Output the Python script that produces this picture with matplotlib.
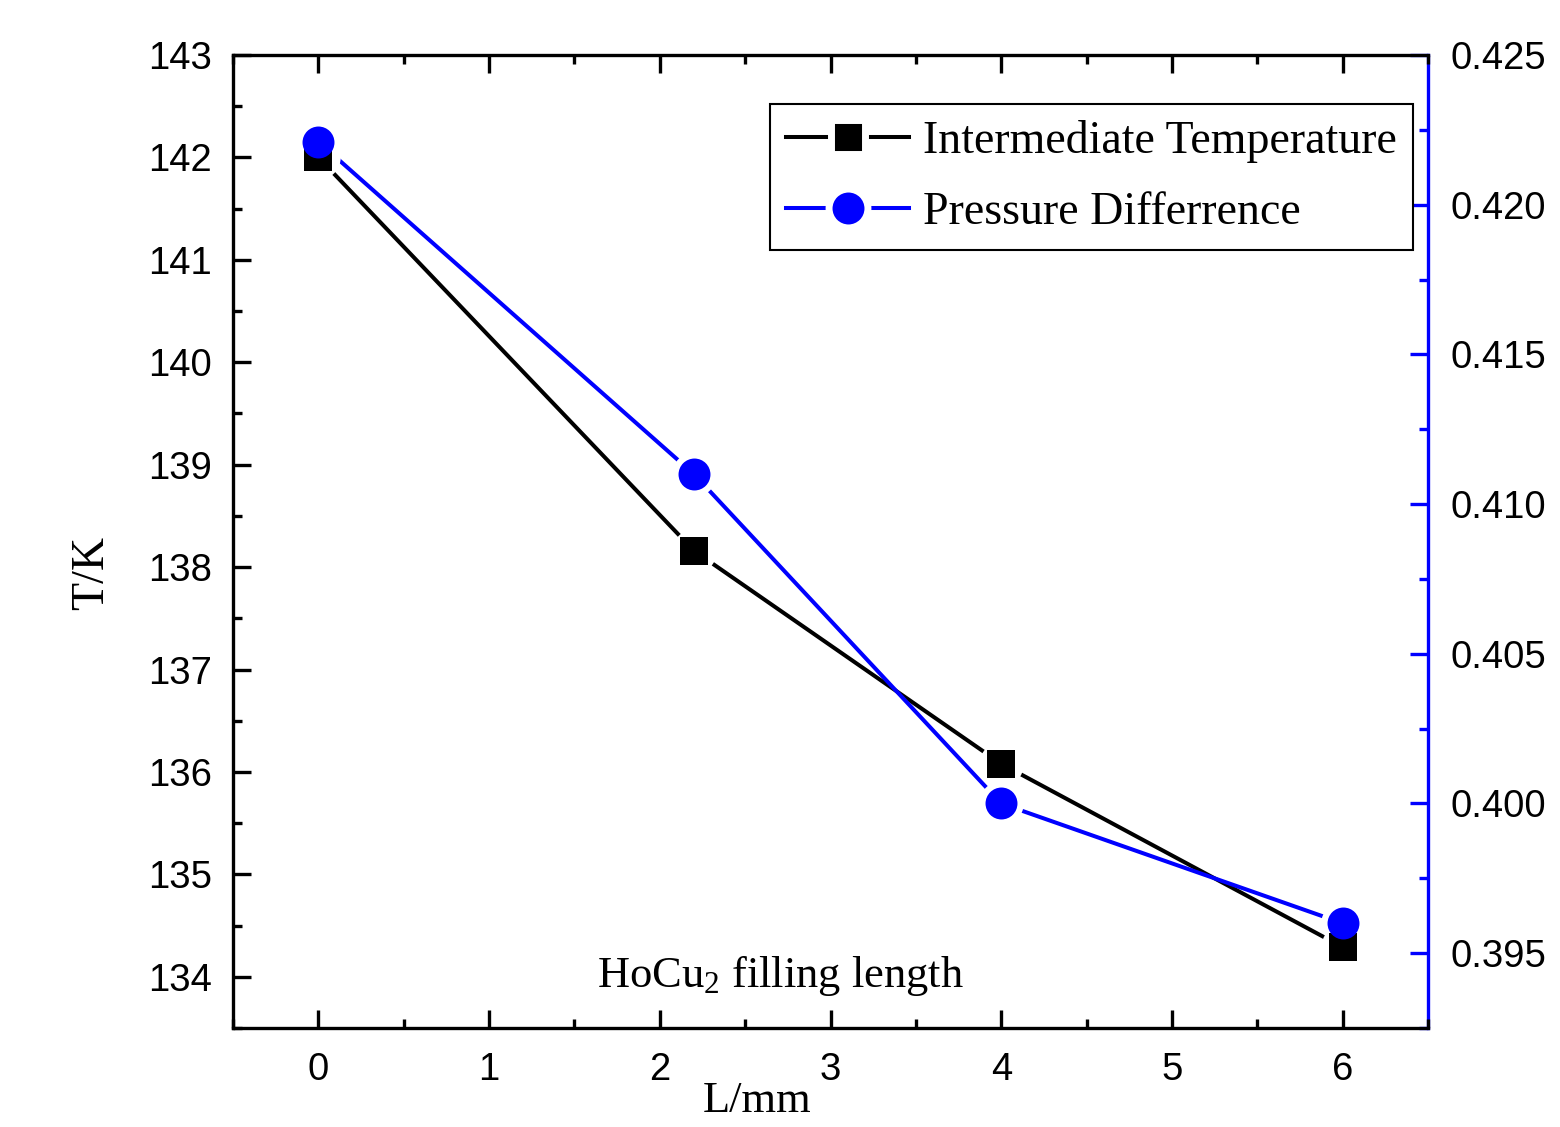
import matplotlib
matplotlib.use('Agg')
import matplotlib.pyplot as plt
from matplotlib.ticker import MultipleLocator, FormatStrFormatter
from matplotlib.lines import Line2D

# data
length_mm = [0, 2.2, 4, 6]
temp_K = [142.0, 138.16, 136.08, 134.29]
pressure_diff = [0.4221, 0.4110, 0.4000, 0.3960]

plt.rcParams['font.family'] = 'Liberation Sans'
plt.rcParams['mathtext.default'] = 'regular'
serif = 'Liberation Serif'

fig = plt.figure(figsize=(15.6, 11.27), dpi=100)
ax = fig.add_axes([0.1494, 0.0878, 0.7660, 0.8634])
ax2 = ax.twinx()
# draw the left axes on top so both series share one drawing order
ax.set_zorder(ax2.get_zorder() + 1)
ax.patch.set_visible(False)

ax.set_xlim(-0.5, 6.5)
ax.set_ylim(133.5, 143)
ax2.set_ylim(0.3925, 0.425)

lw = 2.9
sq_ms, ci_ms, halo_ms = 20, 23, 32
# lines
ax.plot(length_mm, temp_K, color='black', lw=lw, zorder=2)
ax.plot(length_mm, pressure_diff, color='blue', lw=lw, zorder=2, transform=ax2.transData)
# white round halos give the Origin-style gap between line and symbol
ax.plot(length_mm, temp_K, ls='none', marker='o', ms=halo_ms, mfc='white', mew=0, zorder=3)
ax.plot(length_mm, pressure_diff, ls='none', marker='o', ms=halo_ms, mfc='white', mew=0,
        zorder=3, transform=ax2.transData)
# symbols
ax.plot(length_mm, temp_K, ls='none', marker='s', ms=sq_ms, mfc='black', mew=0, zorder=4)
ax.plot(length_mm, pressure_diff, ls='none', marker='o', ms=ci_ms, mfc='blue', mew=0,
        zorder=5, transform=ax2.transData)

ax.set_xlim(-0.5, 6.5)
ax.set_ylim(133.5, 143)

ax.xaxis.set_major_locator(MultipleLocator(1))
ax.xaxis.set_minor_locator(MultipleLocator(0.5))
ax.yaxis.set_major_locator(MultipleLocator(1))
ax.yaxis.set_minor_locator(MultipleLocator(0.5))
ax2.yaxis.set_major_locator(MultipleLocator(0.005))
ax2.yaxis.set_minor_locator(MultipleLocator(0.0025))
ax2.yaxis.set_major_formatter(FormatStrFormatter('%.3f'))

ax.tick_params(which='both', direction='in', width=2.4, labelsize=27.5, top=True,
               right=False, color='black')
ax.tick_params(axis='y', pad=15)
ax.tick_params(axis='x', pad=17)
ax.tick_params(which='major', length=13)
ax.tick_params(which='minor', length=6.5)
ax2.tick_params(which='both', direction='in', width=2.4, labelsize=27.5,
                color='blue', labelcolor='black', pad=16)
ax2.tick_params(which='major', length=13)
ax2.tick_params(which='minor', length=6.5)

for sp in ['left', 'bottom', 'top']:
    ax.spines[sp].set_linewidth(2.4)
ax.spines['right'].set_visible(False)
for sp in ['left', 'bottom', 'top']:
    ax2.spines[sp].set_visible(False)
ax2.spines['right'].set_linewidth(2.4)
ax2.spines['right'].set_color('blue')

ax.text(-0.118, 0.4676, 'T/K', transform=ax.transAxes, rotation=90,
        ha='center', va='center', fontsize=33, family=serif)
ax.text(0.4385, -0.075, 'L/mm', transform=ax.transAxes,
        ha='center', va='center', fontsize=32, family=serif)
ax.text(0.458, 0.042, 'HoCu$_2$ filling length', transform=ax.transAxes,
        ha='center', va='baseline', fontsize=32, family=serif)

h1 = Line2D([], [], color='black', lw=lw, marker='s', ms=sq_ms + 5, mfc='black',
            mec='white', mew=5)
h2 = Line2D([], [], color='blue', lw=lw, marker='o', ms=ci_ms + 5, mfc='blue',
            mec='white', mew=5)
leg = ax.legend([h1, h2], ['Intermediate Temperature', 'Pressure Differrence'],
                loc='upper right', bbox_to_anchor=(0.9875, 0.9497),
                prop={'family': serif, 'size': 33}, frameon=True, fancybox=False,
                edgecolor='black', framealpha=1, handlelength=2.7,
                borderpad=0.35, labelspacing=0.62, handletextpad=0.3,
                borderaxespad=0)
leg.get_frame().set_linewidth(1.5)
leg.set_zorder(10)

fig.savefig('out.png', dpi=100)
